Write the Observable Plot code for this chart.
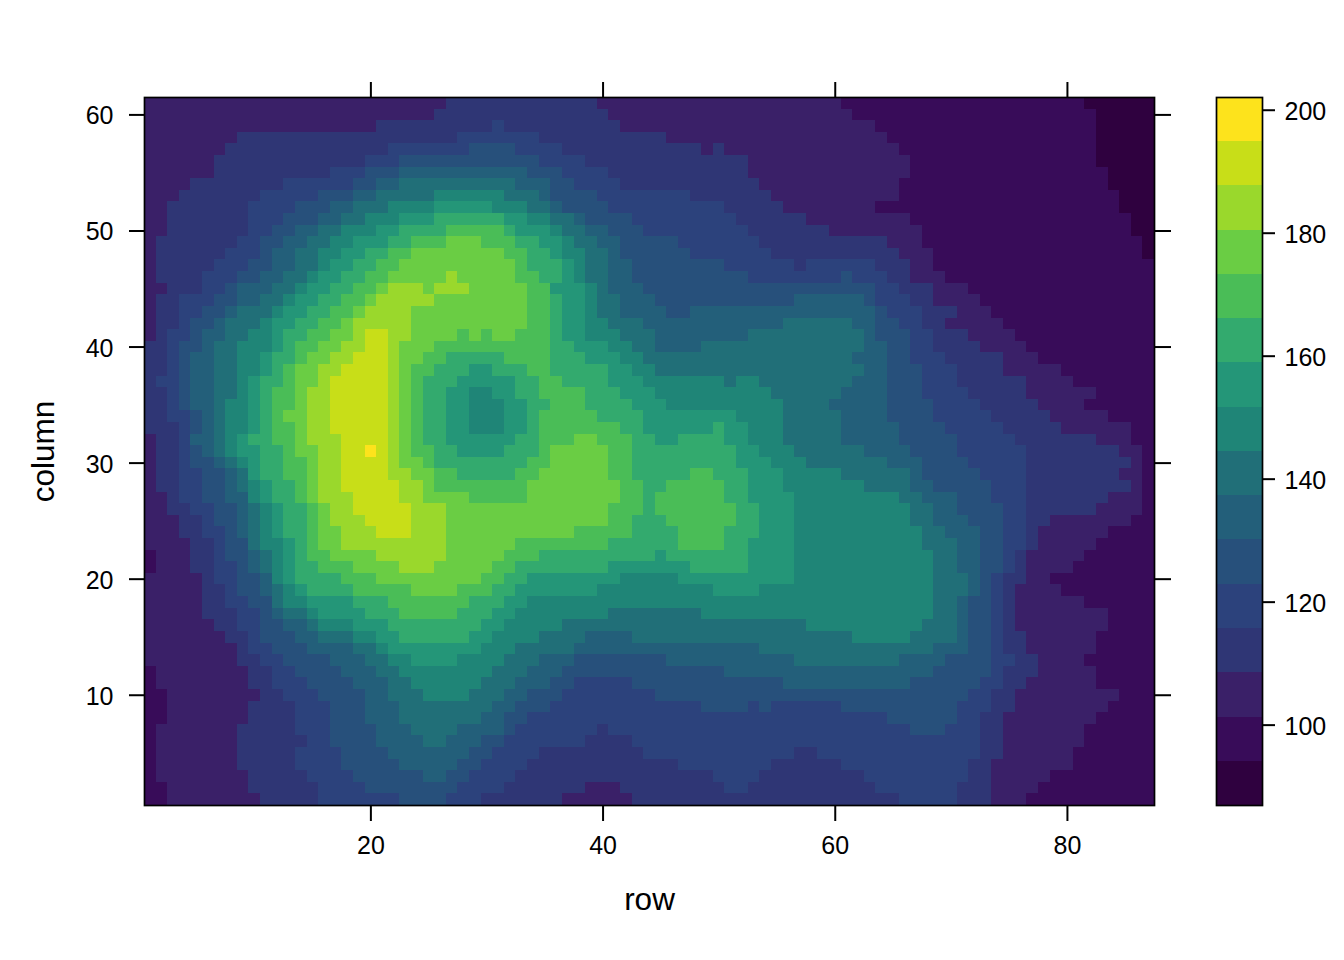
<!DOCTYPE html>
<html>
<head>
<meta charset="utf-8">
<script src="https://cdn.jsdelivr.net/npm/d3@7"></script>
<script src="https://cdn.jsdelivr.net/npm/@observablehq/plot@0.6"></script>
<style>
html,body{margin:0;padding:0;background:#fff}
#chart{display:flex;width:1344px;height:960px;font-family:"Liberation Sans",Arial,sans-serif}
#chart svg{display:block;max-width:none;flex:none}
</style>
</head>
<body>
<div id="chart"></div>
<script>
// Band edges of the colour key (elevation), and one colour per band.
const keyBreaks = [86.93,94.13,101.32,108.52,115.72,122.91,130.11,137.31,144.5,151.7,158.9,166.1,173.3,180.5,187.7,194.9,202.07];
const keyColors = ["#2F013F","#380C59","#3A2068","#2F3675","#2C427C","#27507B","#235F7A","#216F78","#1F8577","#249678","#33AA6E","#4ABD57","#6ACD44","#9AD82C","#C8DE18","#FDE31C"];
const keyTicks = [100,120,140,160,180,200];
const rowTicks = [20,40,60,80];
const columnTicks = [10,20,30,40,50,60];

// One strip per column value, 61 down to 1. Each entry is band:lastRow.
const columnStrips = [
"3:26 4:39 3:60 2:81 1:87",
"3:25 4:40 3:61 2:82 1:87",
"3:20 4:30 5:31 4:41 3:63 2:82 1:87",
"3:8 4:27 5:34 4:45 3:64 2:82 1:87",
"3:7 4:21 5:28 6:32 5:36 4:48 3:49 4:50 3:65 2:82 1:87",
"3:6 4:19 5:22 6:34 5:38 4:52 3:66 2:82 1:87",
"3:6 4:16 5:19 6:22 7:33 6:36 5:40 4:52 3:66 2:83 1:87",
"3:4 4:12 5:18 6:20 7:22 8:32 7:35 6:37 5:41 4:53 3:65 2:83 1:87",
"3:3 4:10 5:15 6:18 7:20 8:25 9:31 8:34 7:35 6:39 5:47 4:54 3:65 2:84 1:87",
"3:2 4:9 5:13 6:16 7:18 8:21 9:25 10:30 9:33 8:35 7:36 6:40 5:50 4:55 3:63 2:84 1:87",
"3:2 4:9 5:12 6:15 7:17 8:19 9:22 10:25 11:31 10:33 9:35 8:37 7:38 6:42 5:51 4:57 3:66 2:85 1:87",
"3:2 4:9 5:11 6:13 7:15 8:17 9:20 10:22 11:26 12:31 11:32 10:35 9:36 8:38 7:40 6:43 5:52 4:59 3:67 2:85 1:87",
"3:1 4:8 5:10 6:12 7:14 8:16 9:18 10:21 11:23 12:26 13:29 12:32 11:34 10:36 9:37 8:39 7:41 6:46 5:53 4:64 3:67 2:86 1:87",
"3:1 4:7 5:10 6:11 7:13 8:15 9:17 10:19 11:21 12:23 13:31 12:33 11:35 10:36 9:38 8:40 7:41 6:47 5:54 4:65 3:68 2:86 1:87",
"3:1 4:6 5:9 6:11 7:13 8:15 9:16 10:18 11:20 12:22 13:32 12:33 11:36 10:37 9:38 8:40 7:42 6:50 5:56 4:57 5:63 4:66 3:68 2:87",
"3:1 4:5 5:8 6:10 7:12 8:14 9:15 10:17 11:19 12:21 13:26 14:27 13:32 12:34 11:36 10:37 9:38 8:40 7:42 6:52 5:60 6:61 5:64 4:66 3:69 2:87",
"3:2 4:5 5:7 6:8 7:11 8:13 9:14 10:16 11:18 12:20 13:21 14:24 13:25 14:28 13:33 12:35 10:38 9:39 8:40 7:43 6:63 5:65 4:68 3:71 2:87",
"3:1 4:3 5:6 6:8 7:10 8:12 9:13 10:15 11:17 12:19 13:20 14:25 13:33 12:35 11:36 10:38 9:39 8:41 7:44 6:56 7:62 6:63 5:66 4:68 3:72 2:87",
"3:1 4:3 5:5 6:7 7:8 8:11 9:12 10:14 11:16 12:18 13:19 14:23 13:33 12:35 11:36 10:38 9:39 8:41 7:45 6:47 7:63 6:64 5:67 4:70 3:73 2:87",
"3:1 4:3 5:4 6:6 7:7 8:10 9:11 10:13 11:15 12:17 13:18 14:23 13:33 12:35 11:36 10:38 9:40 8:43 7:55 8:61 7:63 6:65 5:67 4:69 3:74 2:87",
"3:1 4:2 5:4 6:5 7:7 8:9 9:11 10:12 11:14 12:16 13:18 14:19 15:21 14:23 13:27 12:28 13:29 12:30 13:32 12:35 11:36 10:38 9:41 8:44 7:52 8:62 7:63 6:66 5:68 4:71 3:75 2:87",
"4:2 5:3 6:5 7:6 8:8 9:11 10:12 11:13 12:15 13:17 14:19 15:21 14:22 13:25 12:35 11:37 10:40 9:42 8:44 7:48 8:62 7:64 6:66 5:68 4:72 3:76 2:87",
"4:2 5:3 6:4 7:6 8:8 9:10 10:11 11:13 12:14 13:16 14:18 15:21 14:22 13:24 12:26 11:31 12:35 11:38 10:41 9:43 8:61 7:64 6:66 5:69 4:74 3:77 2:87",
"4:2 5:3 6:4 7:6 8:8 9:10 10:11 11:12 12:13 13:15 14:17 15:21 14:22 13:23 12:25 11:28 10:30 11:33 12:35 11:40 10:42 9:44 8:62 7:64 6:67 5:70 4:74 3:79 2:87",
"4:1 5:3 6:4 7:6 8:8 9:9 10:10 11:12 12:13 13:15 14:16 15:21 14:22 13:23 12:24 11:27 10:32 11:34 12:36 11:40 10:43 9:50 8:51 9:53 8:61 7:64 6:67 5:70 4:76 3:80 2:87",
"4:2 5:3 6:4 7:6 8:8 9:9 10:10 11:11 12:13 13:14 14:16 15:21 14:22 13:23 12:24 11:26 10:28 9:30 10:32 11:34 12:38 11:41 10:44 9:54 8:60 7:64 6:67 5:71 4:76 3:82 2:87",
"4:2 5:3 6:4 7:6 8:7 9:9 10:10 11:11 12:13 13:14 14:16 15:21 14:22 13:23 12:24 11:26 10:28 9:31 10:33 11:35 12:38 11:42 10:45 9:55 8:59 7:64 6:68 5:72 4:77 3:81 2:87",
"4:2 5:4 6:5 7:6 8:7 9:9 10:10 11:11 12:12 13:14 14:16 15:21 14:22 13:23 12:24 11:26 10:28 9:31 10:33 11:34 12:39 11:43 10:51 9:55 8:60 7:64 6:68 5:73 4:78 3:83 2:87",
"4:3 5:4 6:5 7:6 8:7 9:9 10:10 11:11 12:13 13:14 14:16 15:21 14:22 13:23 12:24 11:26 10:28 9:31 10:33 11:34 12:41 11:43 10:49 11:50 10:52 9:55 8:60 7:65 6:69 5:74 4:79 3:85 2:87",
"3:1 4:3 5:4 7:6 8:7 9:8 10:9 11:11 12:13 13:14 14:17 15:21 14:22 13:23 12:24 11:26 10:32 11:34 12:37 13:39 12:42 11:44 10:46 11:50 10:52 9:55 8:60 7:65 6:70 5:75 4:82 3:85 2:87",
"3:1 4:3 5:4 6:5 7:6 8:7 9:8 10:10 11:12 12:13 13:15 14:17 15:19 16:20 15:21 14:22 13:23 12:25 11:27 10:31 11:34 12:35 13:40 12:42 11:51 10:53 9:56 8:62 7:66 6:70 5:76 4:84 3:86 2:87",
"3:1 4:3 5:4 6:6 7:7 8:8 9:9 10:10 11:12 12:14 13:15 14:17 15:21 14:22 13:24 12:25 11:33 12:35 13:40 12:42 11:51 10:54 9:57 8:64 7:67 6:71 5:76 4:85 3:86 2:87",
"3:1 4:3 5:5 6:7 7:8 8:9 10:10 11:12 12:14 13:15 14:17 15:21 14:23 13:25 12:27 11:32 12:34 13:40 12:42 11:47 12:49 11:52 10:55 9:60 8:66 7:67 6:72 5:76 4:84 3:86 2:87",
"3:1 4:3 5:5 6:7 7:8 8:9 9:10 10:11 11:13 12:14 13:15 14:17 15:22 14:24 13:25 12:33 13:41 12:43 11:45 12:50 11:52 10:55 9:62 8:66 7:68 6:73 5:76 4:85 3:86 2:87",
"3:2 4:3 5:5 6:7 7:9 9:10 10:11 11:13 12:14 13:15 14:18 15:22 14:24 13:28 12:33 13:41 12:43 11:44 12:50 11:52 10:56 9:65 8:67 7:70 6:73 5:76 4:83 3:86 2:87",
"3:2 4:4 5:6 6:8 7:9 8:10 9:11 10:12 11:14 12:15 13:16 14:18 15:23 14:26 13:40 12:43 11:44 12:51 11:53 10:56 9:66 8:68 7:70 6:74 5:76 4:82 3:86 2:87",
"3:3 4:5 5:6 6:8 7:9 8:10 9:11 10:12 11:14 12:15 13:16 14:19 15:23 14:26 13:40 12:42 11:45 12:51 11:53 10:56 9:66 8:68 7:71 6:74 5:76 4:78 3:85 2:87",
"3:3 4:5 5:7 6:8 7:9 8:10 9:11 10:12 11:14 12:15 13:17 14:20 15:23 14:26 13:37 12:42 11:46 12:50 11:53 10:56 9:67 8:69 7:72 6:74 5:76 4:77 3:83 2:87",
"3:4 4:6 5:7 6:9 8:10 9:12 10:13 11:14 12:15 13:17 14:26 13:32 12:40 11:46 12:50 11:52 10:56 9:67 8:70 7:72 6:74 5:76 4:77 3:82 2:87",
"2:1 3:4 4:6 5:7 6:9 7:10 8:11 9:12 10:13 11:14 12:16 13:20 14:26 13:31 12:34 11:44 10:45 11:52 10:56 9:68 8:70 7:72 6:74 5:75 4:76 3:81 2:87",
"2:1 3:4 4:6 5:8 6:9 7:10 8:11 9:12 10:13 11:15 12:18 13:22 14:25 13:30 12:32 11:40 10:47 11:52 10:56 9:68 8:70 7:72 6:74 5:75 4:76 3:80 2:87",
"3:5 4:6 5:8 6:10 7:11 9:12 10:13 11:17 12:20 13:29 12:31 11:33 10:41 9:46 10:56 9:68 8:71 7:72 6:73 5:74 4:76 3:78 2:87",
"3:5 4:7 5:8 6:10 7:11 8:12 9:13 10:14 11:18 12:23 13:27 12:30 11:32 10:39 9:49 10:53 9:68 8:71 7:72 6:73 5:74 4:75 3:79 2:87",
"3:5 4:7 5:9 6:11 8:12 9:14 10:18 11:21 12:28 11:31 10:33 9:68 8:70 7:71 6:73 5:74 4:75 3:81 2:87",
"3:5 4:8 5:10 6:11 7:12 8:14 9:15 10:19 11:22 12:27 11:30 10:32 9:40 8:48 9:68 8:70 7:71 6:73 5:74 4:75 3:83 2:87",
"3:6 4:8 5:10 6:12 7:14 8:15 9:18 10:21 11:29 10:31 9:36 8:57 9:67 8:70 7:71 6:73 5:74 4:75 3:83 2:87",
"3:7 4:9 5:10 6:13 7:15 8:18 9:20 10:22 11:28 10:30 9:34 8:38 7:42 8:61 9:66 8:70 7:71 6:73 5:74 4:76 3:82 2:87",
"3:8 4:9 5:11 6:14 7:18 8:20 9:21 10:29 9:32 8:37 7:53 8:68 7:71 6:73 5:74 4:76 3:82 2:87",
"3:8 4:10 5:12 6:16 7:19 8:21 9:23 10:27 9:31 8:34 7:37 6:45 7:56 8:65 7:69 6:73 5:75 4:77 3:81 2:87",
"2:1 3:9 4:11 5:13 6:17 7:20 8:22 9:30 8:33 7:36 6:50 7:68 6:73 5:74 4:77 3:82 2:87",
"2:1 3:9 4:11 5:14 6:18 7:21 8:23 9:29 8:32 7:35 6:37 5:42 6:55 7:66 6:72 5:74 4:76 3:82 2:87",
"2:2 3:10 4:12 5:15 6:19 7:21 8:24 9:28 8:31 7:33 6:36 5:44 6:71 5:73 4:75 3:84 2:87",
"2:2 3:9 4:13 5:16 6:19 7:22 8:30 7:32 6:35 5:48 6:52 5:53 6:54 5:60 6:70 5:73 4:75 3:83 2:87",
"2:2 3:9 4:13 5:16 6:19 7:22 8:29 7:31 6:33 5:64 6:70 5:72 4:74 3:82 2:87",
"2:1 3:8 4:13 5:16 6:20 7:23 8:27 7:31 6:32 5:39 4:40 5:66 6:69 5:72 4:74 3:81 2:87",
"2:1 3:8 4:14 5:16 6:20 7:24 8:26 7:29 6:31 5:38 4:42 5:72 4:74 3:81 2:87",
"2:1 3:8 4:13 5:17 6:21 7:28 6:30 5:34 4:43 5:56 4:58 5:72 4:74 3:80 2:87",
"2:1 3:8 4:13 5:17 6:22 7:27 6:29 5:33 4:46 5:54 4:60 5:71 4:73 3:80 2:87",
"2:1 3:9 4:14 5:18 6:24 7:26 6:28 5:32 4:49 5:53 4:62 5:71 4:73 3:78 2:87",
"2:2 3:9 4:15 5:19 6:27 5:31 4:38 3:41 4:50 5:52 4:63 5:70 4:73 3:77 2:87",
"2:2 3:10 4:15 5:22 6:26 5:29 4:36 3:42 4:65 5:70 4:73 3:76 2:87"
];

const bandMid = i => (keyBreaks[i - 1] + keyBreaks[i]) / 2;
const cells = [];
columnStrips.forEach((strip, k) => {
  const column = 61 - k;
  let row = 1;
  for (const run of strip.split(" ")) {
    const [band, last] = run.split(":").map(Number);
    for (; row <= last; row++) cells.push({row, column, value: bandMid(band)});
  }
});
const keyRows = keyColors.map((c, i) => ({lo: keyBreaks[i], hi: keyBreaks[i + 1], value: bandMid(i + 1)}));

const colorScale = {type: "threshold", domain: keyBreaks.slice(1, -1), range: keyColors};
const tickFont = 25, labelFont = 31.5, lineW = 1.7, tickW = 2;
const blank = () => "";

const main = Plot.plot({
  width: 1200, height: 960,
  marginLeft: 144, marginRight: 46, marginTop: 97, marginBottom: 155,
  style: {fontFamily: '"Liberation Sans",Arial,sans-serif', background: "#fff", color: "#000"},
  x: {domain: [0.5, 87.5], axis: null},
  y: {domain: [0.5, 61.5], axis: null},
  color: colorScale,
  marks: [
    Plot.rect(cells, {x1: d => d.row - 0.5, x2: d => d.row + 0.5, y1: d => d.column - 0.5, y2: d => d.column + 0.5, fill: "value", shapeRendering: "crispEdges"}),
    Plot.frame({stroke: "#000", strokeWidth: lineW}),
    Plot.axisX(rowTicks, {anchor: "bottom", tickSize: 16, tickPadding: 15, fontSize: tickFont, label: null, strokeWidth: tickW, stroke: "#000"}),
    Plot.axisX(rowTicks, {anchor: "top", tickSize: 16, tickFormat: blank, label: null, strokeWidth: tickW, stroke: "#000"}),
    Plot.axisY(columnTicks, {anchor: "left", tickSize: 15, tickFormat: blank, label: null, strokeWidth: tickW, stroke: "#000"}),
    Plot.axisY(columnTicks, {anchor: "left", tickSize: 0, tickPadding: 31, dy: 1.5, fontSize: tickFont, label: null}),
    Plot.axisY(columnTicks, {anchor: "right", tickSize: 16, tickFormat: blank, label: null, strokeWidth: tickW, stroke: "#000"}),
    Plot.text(["row"], {frameAnchor: "bottom", dy: 94, fontSize: labelFont, lineAnchor: "middle", fill: "#000"}),
    Plot.text(["column"], {frameAnchor: "left", dx: -101, fontSize: labelFont, rotate: -90, textAnchor: "middle", lineAnchor: "middle", fill: "#000"})
  ]
});

const key = Plot.plot({
  width: 144, height: 960,
  marginLeft: 16, marginRight: 82, marginTop: 97, marginBottom: 155,
  style: {fontFamily: '"Liberation Sans",Arial,sans-serif', background: "#fff", color: "#000"},
  x: {domain: [0, 1], axis: null},
  y: {domain: [keyBreaks[0], keyBreaks[16]], axis: null},
  color: colorScale,
  marks: [
    Plot.rect(keyRows, {x1: 0, x2: 1, y1: "lo", y2: "hi", fill: "value", shapeRendering: "crispEdges"}),
    Plot.frame({stroke: "#000", strokeWidth: lineW}),
    Plot.axisY(keyTicks, {anchor: "right", tickSize: 12, tickFormat: blank, label: null, strokeWidth: tickW, stroke: "#000"}),
    Plot.axisY(keyTicks, {anchor: "right", tickSize: 0, tickPadding: 22, dy: 1.5, fontSize: tickFont, label: null})
  ]
});

const host = document.getElementById("chart");
host.append(main, key);
</script>
</body>
</html>
